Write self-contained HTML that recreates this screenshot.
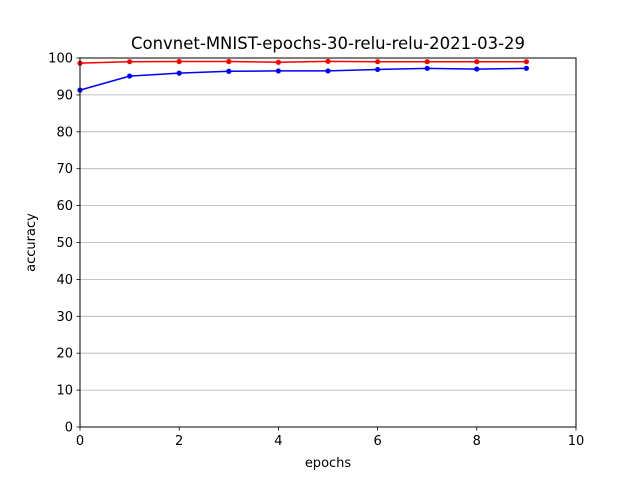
<!DOCTYPE html>
<html><head><meta charset="utf-8"><style>
body{margin:0;background:#fff;}
svg text{font-family:"DejaVu Sans","Liberation Sans",sans-serif;fill:#000;}
</style></head><body>
<svg id="chart" width="640" height="480">
<rect width="640" height="480" fill="#fff"/>
<g id="grid"></g>
<g id="series"></g>
<rect x="80" y="58" width="496" height="369" fill="none" stroke="#000" stroke-width="1"/>
<g id="ticks"></g>
<text x="328" y="49" font-size="16.5" text-anchor="middle">Convnet-MNIST-epochs-30-relu-relu-2021-03-29</text>
<text x="328" y="467" font-size="13" text-anchor="middle">epochs</text>
<text x="0" y="0" font-size="13" text-anchor="middle" transform="translate(35,242.5) rotate(-90)">accuracy</text>
</svg>
<script>
const epochs=[0,1,2,3,4,5,6,7,8,9];
const trainAcc=[98.6,99.0,99.05,99.05,98.85,99.1,99.0,99.0,99.0,99.0];
const valAcc=[91.3,95.1,95.9,96.4,96.5,96.5,96.9,97.2,97.0,97.2];
const xTicks=[0,2,4,6,8,10];
const yTicks=[0,10,20,30,40,50,60,70,80,90,100];
const NS="http://www.w3.org/2000/svg";
const L=80,R=576,T=58,B=427;
const x=v=>L+(v-0)/(10-0)*(R-L);
const y=v=>B-(v-0)/(100-0)*(B-T);
function mk(tag,attrs,parent){const e=document.createElementNS(NS,tag);for(const k in attrs)e.setAttribute(k,attrs[k]);parent.appendChild(e);return e;}
const grid=document.getElementById('grid'),ticks=document.getElementById('ticks'),series=document.getElementById('series');
yTicks.forEach(t=>{
  const g=mk('line',{x1:L,x2:R,y1:y(t),y2:y(t),stroke:'#b0b0b0','stroke-width':0.8},grid);
  
  
  const tk=mk('line',{x1:L-3.5,x2:L,y1:y(t),y2:y(t),stroke:'#000','stroke-width':0.8},ticks);
  
  
  const lb=mk('text',{x:L-7,y:y(t)+4.5,'font-size':13,'text-anchor':'end'},ticks);
  lb.textContent=t;
  
  
});
xTicks.forEach(t=>{
  const tk=mk('line',{x1:x(t),x2:x(t),y1:B,y2:B+3.5,stroke:'#000','stroke-width':0.8},ticks);
  
  
  const lb=mk('text',{x:x(t),y:B+18,'font-size':13,'text-anchor':'middle'},ticks);
  lb.textContent=t;
  
  
});
function drawSeries(vals,color,name){
  const pts=epochs.map((e,i)=>x(e)+','+y(vals[i])).join(' ');
  const pl=mk('polyline',{points:pts,fill:'none',stroke:color,'stroke-width':1.5},series);
  
  
  epochs.forEach((e,i)=>{
    const c=mk('circle',{cx:x(e),cy:y(vals[i]),r:2.6,fill:color},series);
    
    
  });
}
drawSeries(trainAcc,'#ff0000','train-accuracy');
drawSeries(valAcc,'#0000ff','validation-accuracy');
</script>
</body></html>
